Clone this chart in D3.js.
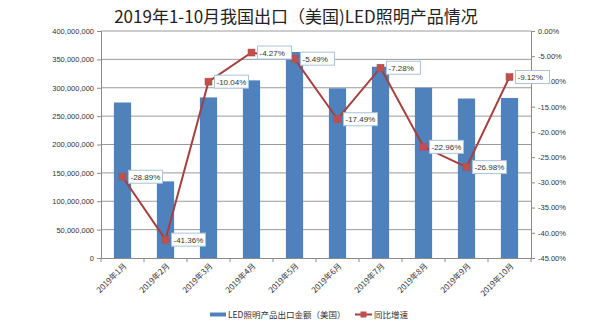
<!DOCTYPE html>
<html><head><meta charset="utf-8">
<script src="https://cdn.jsdelivr.net/npm/d3@7"></script>
<style>body{margin:0;background:#fff}svg{display:block}</style>
</head><body>
<svg id="c" width="593" height="330"></svg>
<script>
const categories = ["2019年1月","2019年2月","2019年3月","2019年4月","2019年5月","2019年6月","2019年7月","2019年8月","2019年9月","2019年10月"];
const exportValues = [274000000,135000000,283000000,313000000,363000000,299000000,337000000,300000000,281000000,282000000];
const growthRates = [-28.89,-41.36,-10.04,-4.27,-5.49,-17.49,-7.28,-22.96,-26.98,-9.12];
const leftTicks = [0,50000000,100000000,150000000,200000000,250000000,300000000,350000000,400000000];
const rightTicks = [0,-5,-10,-15,-20,-25,-30,-35,-40,-45];
const seriesNames = ["LED照明产品出口金额（美国）","同比增速"];
const title = "2019年1-10月我国出口（美国)LED照明产品情况";

const svg = d3.select("#c");
const font = "'Noto Sans CJK SC','Noto Sans',sans-serif";
const m = {left:101, right:531, top:31, bottom:258};

const x = d3.scaleBand().domain(categories).range([m.left, m.right]).paddingInner(0.6).paddingOuter(0.3);
const xc = d3.scaleBand().domain(categories).range([m.left, m.right]);
const yL = d3.scaleLinear().domain([0,400000000]).range([m.bottom, m.top]);
const yR = d3.scaleLinear().domain([-45,0]).range([m.bottom, m.top]);

// title
svg.append("text").attr("x",296).attr("y",23).attr("text-anchor","middle")
  .attr("font-family",font).attr("font-size",17).attr("fill","#222").text(title);

// gridlines
svg.append("g").selectAll("line").data(leftTicks.slice(1)).join("line")
  .attr("x1",m.left).attr("x2",m.right).attr("y1",d=>yL(d)).attr("y2",d=>yL(d))
  .attr("stroke","#9a9a9a").attr("stroke-width",1);

// left axis
const fmt = d3.format(",");
const gl = svg.append("g").attr("transform",`translate(${m.left},0)`)
  .call(d3.axisLeft(yL).tickValues(leftTicks).tickFormat(d=>fmt(d)).tickSize(4));
gl.select(".domain").attr("stroke","#8a8a8a");
gl.selectAll(".tick line").attr("stroke","#8a8a8a");
gl.selectAll("text").attr("font-family","'Liberation Sans',Arial,sans-serif").attr("font-size",7.5).attr("fill","#333").attr("x",-7);

// right axis
const gr = svg.append("g").attr("transform",`translate(${m.right},0)`)
  .call(d3.axisRight(yR).tickValues(rightTicks).tickFormat(d=>d.toFixed(2)+"%").tickSize(4));
gr.select(".domain").attr("stroke","#8a8a8a");
gr.selectAll(".tick line").attr("stroke","#8a8a8a");
gr.selectAll("text").attr("font-family","'Liberation Sans',Arial,sans-serif").attr("font-size",7.5).attr("fill","#333").attr("x",7);

// bars
svg.append("g").selectAll("rect").data(categories).join("rect")
  .attr("x",d=>x(d)).attr("width",x.bandwidth())
  .attr("y",(d,i)=>yL(exportValues[i])).attr("height",(d,i)=>m.bottom-yL(exportValues[i]))
  .attr("fill","#4f81bd");

// bottom axis
const gb = svg.append("g").attr("transform",`translate(0,${m.bottom})`)
  .call(d3.axisBottom(xc).tickSize(0).tickFormat(""));
gb.select(".domain").attr("stroke","#8a8a8a");
svg.append("g").selectAll("line").data(d3.range(categories.length+1)).join("line")
  .attr("x1",i=>m.left+i*xc.step()).attr("x2",i=>m.left+i*xc.step())
  .attr("y1",m.bottom).attr("y2",m.bottom+4).attr("stroke","#8a8a8a");
svg.append("g").selectAll("text").data(categories).join("text")
  .attr("transform",d=>`translate(${xc(d)+xc.bandwidth()/2+3},${m.bottom+7}) rotate(-45)`)
  .attr("text-anchor","end").attr("dominant-baseline","middle")
  .attr("font-family",font).attr("font-size",8).attr("fill","#333").text(d=>d);

// line
const cx = d=>xc(d)+xc.bandwidth()/2;
const line = d3.line().x((d,i)=>cx(categories[i])).y(d=>yR(d));
svg.append("path").datum(growthRates).attr("d",line).attr("fill","none")
  .attr("stroke","#a5403e").attr("stroke-width",2);
svg.append("g").selectAll("rect").data(growthRates).join("rect")
  .attr("x",(d,i)=>cx(categories[i])-3.5).attr("y",d=>yR(d)-3.5)
  .attr("width",7).attr("height",7).attr("fill","#c0504d").attr("stroke","#b04a48").attr("stroke-width",0.5);

// data labels
const lab = svg.append("g").selectAll("g").data(growthRates).join("g")
  .attr("transform",(d,i)=>`translate(${cx(categories[i])+6},${yR(d)})`);
lab.append("rect").attr("x",0).attr("y",-6.5).attr("width",34).attr("height",13)
  .attr("fill","#fff").attr("stroke","#a9c4dc").attr("stroke-width",1);
lab.append("text").attr("x",2).attr("y",3).attr("font-family","'Liberation Sans',Arial,sans-serif")
  .attr("font-size",8).attr("fill","#333").text(d=>d.toFixed(2)+"%");

// legend
svg.append("rect").attr("x",210).attr("y",312.5).attr("width",16).attr("height",4).attr("fill","#4f81bd");
svg.append("text").attr("x",228).attr("y",318).attr("font-family",font).attr("font-size",8.5).attr("fill","#333").text(seriesNames[0]);
svg.append("line").attr("x1",355).attr("x2",372).attr("y1",314.5).attr("y2",314.5).attr("stroke","#a5403e").attr("stroke-width",2);
svg.append("rect").attr("x",360.5).attr("y",311.5).attr("width",6).attr("height",6).attr("fill","#c0504d");
svg.append("text").attr("x",374).attr("y",318).attr("font-family",font).attr("font-size",8.5).attr("fill","#333").text(seriesNames[1]);
</script>
</body></html>
